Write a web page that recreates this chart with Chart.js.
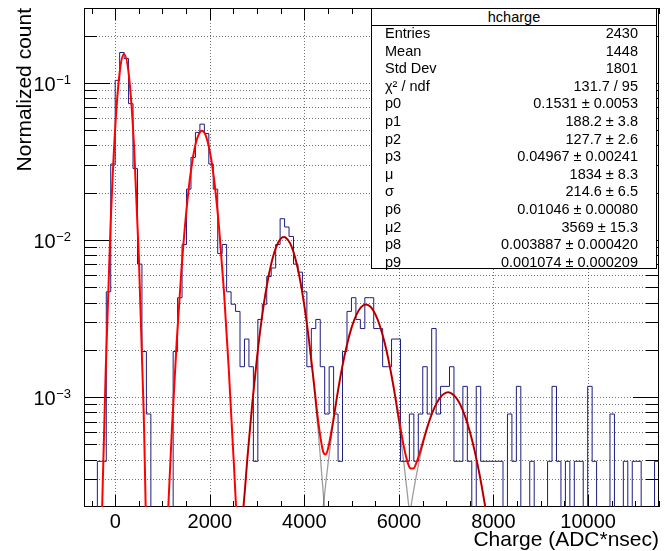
<!DOCTYPE html>
<html lang="en">
<head>
<meta charset="UTF-8" />
<title>hcharge</title>
<script src="https://cdn.jsdelivr.net/npm/chart.js"></script>
<style>
  html, body { margin: 0; padding: 0; background: #fff; }
  #wrap { position: relative; width: 665px; height: 551px; }
  #stats {
    position: absolute; left: 371px; top: 8px; width: 286px; height: 261px;
    box-sizing: border-box; border: 1px solid #000; background: #fff;
    font-family: "Liberation Sans", Arial, sans-serif; font-size: 14.5px; color: #000;
  }
  #stats .title { height: 16px; line-height: 16px; text-align: center; border-bottom: 1px solid #000; }
  #stats .row {
    position: absolute; left: 13px; right: 18px; height: 17.6px; line-height: 17.6px;
    display: flex; justify-content: space-between; white-space: nowrap;
  }
</style>
</head>
<body>
<div id="wrap">
  <canvas id="c" width="665" height="551"></canvas>
  <div id="stats"><div class="title">hcharge</div></div>
</div>
<script>
  // histogram binning
  const XMIN = -660;
  const XMAX = 11500;
  const NBINS = 129;
  const NORM = 2560;
  const YMIN = 2e-4;
  const YMAX = 0.3;

  // bin contents, left to right
  const COUNTS = [
    0, 0, 0, 1, 1, 12, 78, 266, 400, 366,
    189, 73, 18, 5, 2, 0, 0, 0, 0, 0,
    5, 11, 24, 54, 86, 124, 140, 122, 78, 54,
    21, 24, 12, 10, 9, 4, 6, 4, 1, 8,
    10, 15, 17, 24, 35, 31, 27, 18, 16, 12,
    4, 7, 8, 4, 2, 4, 2, 1, 5, 9,
    11, 8, 7, 11, 11, 7, 7, 4, 4, 6,
    6, 1, 1, 2, 1, 2, 4, 2, 7, 2,
    3, 3, 4, 1, 1, 3, 1, 0, 3, 1,
    1, 1, 1, 1, 0, 2, 1, 3, 0, 0,
    1, 0, 0, 0, 1, 3, 1, 0, 1, 0,
    1, 1, 0, 3, 1, 0, 0, 0, 2, 0,
    0, 1, 0, 1, 1, 0, 0, 0, 1
  ];

  // total fit curve (red)
  const FIT_X = [-300, -200, -100, 0, 100, 188, 300, 400, 500, 600, 700,
    1000, 1100, 1200, 1300, 1400, 1500, 1600, 1700, 1800, 1834, 1900,
    2000, 2100, 2200, 2300, 2400, 2500, 2600, 2700, 2800, 2900,
    3000, 3100, 3200, 3300, 3400, 3500, 3569, 3600, 3700, 3800, 3900,
    4000, 4100, 4200, 4300, 4400, 4450, 4500, 4600, 4700, 4800, 4900,
    5000, 5100, 5200, 5304, 5400, 5500, 5600, 5700, 5800, 5900,
    6000, 6100, 6200, 6250, 6300, 6400, 6500, 6600, 6700, 6800, 6900,
    7000, 7039, 7100, 7200, 7300, 7400, 7500, 7600, 7700, 7800, 7900, 8000];
  const FIT_Y = [1.03e-4, 1.51e-3, 0.012, 0.0517, 0.1206, 0.1531, 0.1044, 0.0387, 0.00777, 8.45e-4, 4.98e-5,
    2.61e-5, 1.43e-4, 6.32e-4, 2.25e-3, 6.43e-3, 0.0148, 0.0274, 0.0409, 0.0491, 0.0497, 0.0474,
    0.0368, 0.0231, 0.0116, 0.0047, 1.54e-3, 4.24e-4, 1.49e-4, 1.88e-4, 4.24e-4, 9.21e-4,
    1.8e-3, 3.17e-3, 5.0e-3, 7.06e-3, 8.96e-3, 0.0102, 0.01046, 0.0104, 9.53e-3, 7.83e-3, 5.77e-3,
    3.82e-3, 2.28e-3, 1.25e-3, 6.76e-4, 4.48e-4, 4.32e-4, 4.69e-4, 6.79e-4, 1.05e-3, 1.55e-3, 2.15e-3,
    2.78e-3, 3.34e-3, 3.74e-3, 3.89e-3, 3.76e-3, 3.38e-3, 2.83e-3, 2.21e-3, 1.61e-3, 1.11e-3,
    7.3e-4, 4.91e-4, 3.72e-4, 3.51e-4, 3.51e-4, 4.05e-4, 5.1e-4, 6.45e-4, 7.89e-4, 9.2e-4, 1.02e-3,
    1.07e-3, 1.074e-3, 1.063e-3, 1.0e-3, 8.93e-4, 7.54e-4, 6.03e-4, 4.57e-4, 3.28e-4, 2.23e-4, 1.44e-4, 8.8e-5];

  // single peak components (grey)
  const G3_X = [2700, 2800, 2900, 3000, 3100, 3200, 3300, 3400, 3500, 3569, 3600,
    3700, 3800, 3900, 4000, 4100, 4200, 4300, 4400, 4450, 4500, 4600];
  const G3_Y = [1.74e-4, 4.22e-4, 9.21e-4, 1.8e-3, 3.17e-3, 5.0e-3, 7.06e-3, 8.96e-3, 0.0102, 0.01046, 0.0104,
    9.53e-3, 7.83e-3, 5.77e-3, 3.82e-3, 2.26e-3, 1.2e-3, 5.75e-4, 2.46e-4, 1.55e-4, 9.5e-5, 3.3e-5];
  const G4_X = [4200, 4300, 4400, 4450, 4500, 4600, 4700, 4800, 4900, 5000, 5100, 5200, 5304,
    5400, 5500, 5600, 5700, 5800, 5900, 6000, 6100, 6200, 6250, 6300, 6400];
  const G4_Y = [4.7e-5, 1.01e-4, 2.02e-4, 2.78e-4, 3.75e-4, 6.46e-4, 1.04e-3, 1.55e-3, 2.15e-3, 2.78e-3, 3.34e-3, 3.74e-3, 3.89e-3,
    3.76e-3, 3.38e-3, 2.83e-3, 2.2e-3, 1.6e-3, 1.08e-3, 6.73e-4, 3.92e-4, 2.13e-4, 1.52e-4, 1.07e-4, 5.0e-5];
  const G5_X = [5900, 6000, 6100, 6200, 6250, 6300, 6400, 6500, 6600, 6700, 6800, 6900, 7000, 7039,
    7100, 7200, 7300, 7400, 7500, 7600, 7700, 7800, 7900, 8000];
  const G5_Y = [3.2e-5, 5.7e-5, 9.8e-5, 1.59e-4, 1.98e-4, 2.44e-4, 3.55e-4, 4.88e-4, 6.37e-4, 7.86e-4, 9.2e-4, 1.02e-3, 1.07e-3, 1.074e-3,
    1.063e-3, 1.0e-3, 8.93e-4, 7.54e-4, 6.03e-4, 4.57e-4, 3.28e-4, 2.23e-4, 1.44e-4, 8.8e-5];

  // axes
  const X_TICKS = [0, 2000, 4000, 6000, 8000, 10000];
  const X_MINOR_STEP = 500;
  const Y_DECADES = [-3, -2, -1];

  // stats box
  const STAT_LABELS = ["Entries", "Mean", "Std Dev", "\u03c7\u00b2 / ndf", "p0", "p1", "p2", "p3",
    "\u03bc", "\u03c3", "p6", "\u03bc2", "p8", "p9"];
  const STAT_VALUES = ["2430", "1448", "1801", "131.7 / 95", "0.1531 \u00b1 0.0053", "188.2 \u00b1 3.8",
    "127.7 \u00b1 2.6", "0.04967 \u00b1 0.00241", "1834 \u00b1 8.3", "214.6 \u00b1 6.5",
    "0.01046 \u00b1 0.00080", "3569 \u00b1 15.3", "0.003887 \u00b1 0.000420", "0.001074 \u00b1 0.000209"];

  const FONT = '"Liberation Sans", Arial, Helvetica, sans-serif';

  const stats = document.getElementById("stats");
  STAT_LABELS.forEach((label, i) => {
    const row = document.createElement("div");
    row.className = "row";
    row.style.top = (16 + i * 17.6) + "px";
    const l = document.createElement("span");
    l.textContent = label;
    const v = document.createElement("span");
    v.textContent = STAT_VALUES[i];
    row.appendChild(l);
    row.appendChild(v);
    stats.appendChild(row);
  });

  const pts = (xs, ys) => xs.map((x, i) => ({ x: x, y: ys[i] }));

  const binW = (XMAX - XMIN) / NBINS;
  const histPoints = COUNTS.map((c, k) => ({ x: XMIN + k * binW, y: c > 0 ? c / NORM : YMIN / 10 }));
  histPoints.push({ x: XMAX, y: histPoints[histPoints.length - 1].y });

  // log grid values 2..9 x decade inside the frame
  const yGrid = [];
  for (let e = -4; e <= -1; e++) {
    for (let m = 1; m <= 9; m++) {
      const v = m * Math.pow(10, e);
      if (v > YMIN * 1.0001 && v < YMAX * 0.9999) yGrid.push({ v: v, major: m === 1 });
    }
  }

  // ROOT style frame: dotted grid, ticks inside on all four sides
  const rootFrame = {
    id: "rootFrame",
    beforeDatasetsDraw(chart) {
      const { ctx, chartArea: a, scales: { x, y } } = chart;
      ctx.save();
      ctx.lineWidth = 1;
      ctx.strokeStyle = "rgba(0,0,0,0.55)";
      ctx.setLineDash([1, 2]);
      ctx.beginPath();
      X_TICKS.forEach(v => {
        const px = Math.round(x.getPixelForValue(v)) + 0.5;
        ctx.moveTo(px, a.top);
        ctx.lineTo(px, a.bottom);
      });
      yGrid.forEach(g => {
        const py = Math.round(y.getPixelForValue(g.v)) + 0.5;
        ctx.moveTo(a.left, py);
        ctx.lineTo(a.right, py);
      });
      ctx.stroke();
      ctx.setLineDash([]);

      ctx.strokeStyle = "#000";
      ctx.beginPath();
      for (let v = -X_MINOR_STEP; v <= XMAX; v += X_MINOR_STEP) {
        const px = Math.round(x.getPixelForValue(v)) + 0.5;
        const len = X_TICKS.includes(v) ? 12 : 6;
        ctx.moveTo(px, a.bottom);
        ctx.lineTo(px, a.bottom - len);
        ctx.moveTo(px, a.top);
        ctx.lineTo(px, a.top + len);
      }
      yGrid.forEach(g => {
        const py = Math.round(y.getPixelForValue(g.v)) + 0.5;
        const len = g.major ? 26 : 13;
        ctx.moveTo(a.left, py);
        ctx.lineTo(a.left + len, py);
        ctx.moveTo(a.right, py);
        ctx.lineTo(a.right - len, py);
      });
      ctx.stroke();
      ctx.strokeRect(a.left + 0.5, a.top + 0.5, a.right - a.left - 1, a.bottom - a.top - 1);
      ctx.restore();
    },
    afterDraw(chart) {
      const { ctx, chartArea: a, scales: { y } } = chart;
      ctx.save();
      ctx.fillStyle = "#000";
      ctx.textAlign = "right";
      ctx.textBaseline = "alphabetic";
      Y_DECADES.forEach(e => {
        const py = y.getPixelForValue(Math.pow(10, e));
        const sup = "\u2212" + Math.abs(e);
        ctx.font = "13px " + FONT;
        const w = ctx.measureText(sup).width;
        const right = a.left - 13;
        ctx.fillText(sup, right, py + 1);
        ctx.font = "20px " + FONT;
        ctx.fillText("10", right - w - 0.5, py + 8);
      });
      ctx.restore();
    }
  };

  new Chart(document.getElementById("c"), {
    type: "line",
    data: {
      datasets: [
        { data: pts(G3_X, G3_Y), borderColor: "rgba(0,0,0,0.38)", borderWidth: 1.3, order: 0, cubicInterpolationMode: "monotone" },
        { data: pts(G4_X, G4_Y), borderColor: "rgba(0,0,0,0.38)", borderWidth: 1.3, order: 0, cubicInterpolationMode: "monotone" },
        { data: pts(G5_X, G5_Y), borderColor: "rgba(0,0,0,0.38)", borderWidth: 1.3, order: 0, cubicInterpolationMode: "monotone" },
        { data: pts(FIT_X, FIT_Y), borderColor: "#ff0000", borderWidth: 2, order: 1, cubicInterpolationMode: "monotone", borderJoinStyle: "round" },
        { data: histPoints, borderColor: "#1c1c80", borderWidth: 1, order: 2, stepped: true }
      ]
    },
    options: {
      responsive: false,
      animation: false,
      devicePixelRatio: 1,
      events: [],
      layout: { padding: { left: 0, right: 6, top: 8, bottom: 0 } },
      elements: { point: { radius: 0 }, line: { fill: false } },
      plugins: { legend: { display: false }, tooltip: { enabled: false } },
      scales: {
        x: {
          type: "linear",
          min: XMIN,
          max: XMAX,
          afterBuildTicks: s => { s.ticks = X_TICKS.map(v => ({ value: v })); },
          afterFit: s => { s.height = 44; },
          grid: { display: false, drawTicks: false },
          border: { display: false },
          ticks: { color: "#000", font: { family: FONT, size: 20 }, padding: 3, maxRotation: 0, autoSkip: false, callback: v => String(v) },
          title: { display: true, text: "Charge (ADC*nsec)", align: "end", color: "#000",
            font: { family: FONT, size: 21, lineHeight: 1 }, padding: { top: 0, bottom: 0.5 } }
        },
        y: {
          type: "logarithmic",
          min: YMIN,
          max: YMAX,
          afterFit: s => { s.width = 84; },
          grid: { display: false, drawTicks: false },
          border: { display: false },
          ticks: { display: false },
          title: { display: true, text: "Normalized count", align: "end", color: "#000",
            font: { family: FONT, size: 21, lineHeight: 1 }, padding: { top: 14.5, bottom: 0 } }
        }
      }
    },
    plugins: [rootFrame]
  });
</script>
</body>
</html>
